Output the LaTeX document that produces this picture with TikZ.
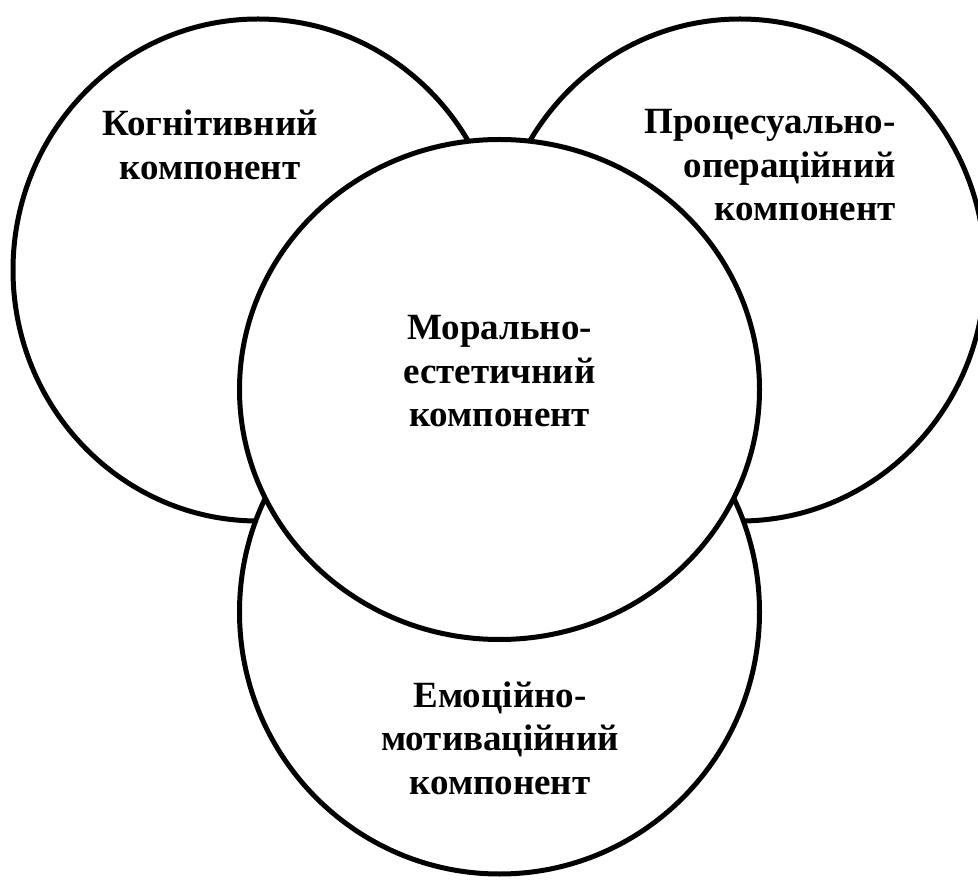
\documentclass[tikz,border=0pt]{standalone}
\usepackage{fontspec}
\setmainfont{Liberation Serif}
\begin{document}
\begin{tikzpicture}[x=1pt,y=-1pt,
  ring/.style={line width=5pt, draw=black, fill=white},
  lbl/.style={font=\fontsize{37}{43.5}\selectfont\bfseries, inner sep=0pt, anchor=base}]
\useasboundingbox (0,0) rectangle (978,882);
\clip (0,0) rectangle (978,882);
\draw[ring] (258,270) ellipse [x radius=245, y radius=251];
\draw[ring] (740,270) ellipse [x radius=245, y radius=251];
\draw[ring] (499.5,612) ellipse [x radius=260, y radius=262];
\draw[ring] (499.5,389.5) ellipse [x radius=260, y radius=250];
\node[lbl, align=center] (kog) at (210,179.5) {Когнітивний\\компонент};
\node[lbl, align=right, anchor=base east] (proc) at (896,221) {Процесуально-\\операційний\\компонент};
\node[lbl, align=center] (mor) at (499.5,427) {Морально-\\естетичний\\компонент};
\node[lbl, align=center] (emo) at (500,794) {Емоційно-\\мотиваційний\\компонент};
\end{tikzpicture}
\end{document}
